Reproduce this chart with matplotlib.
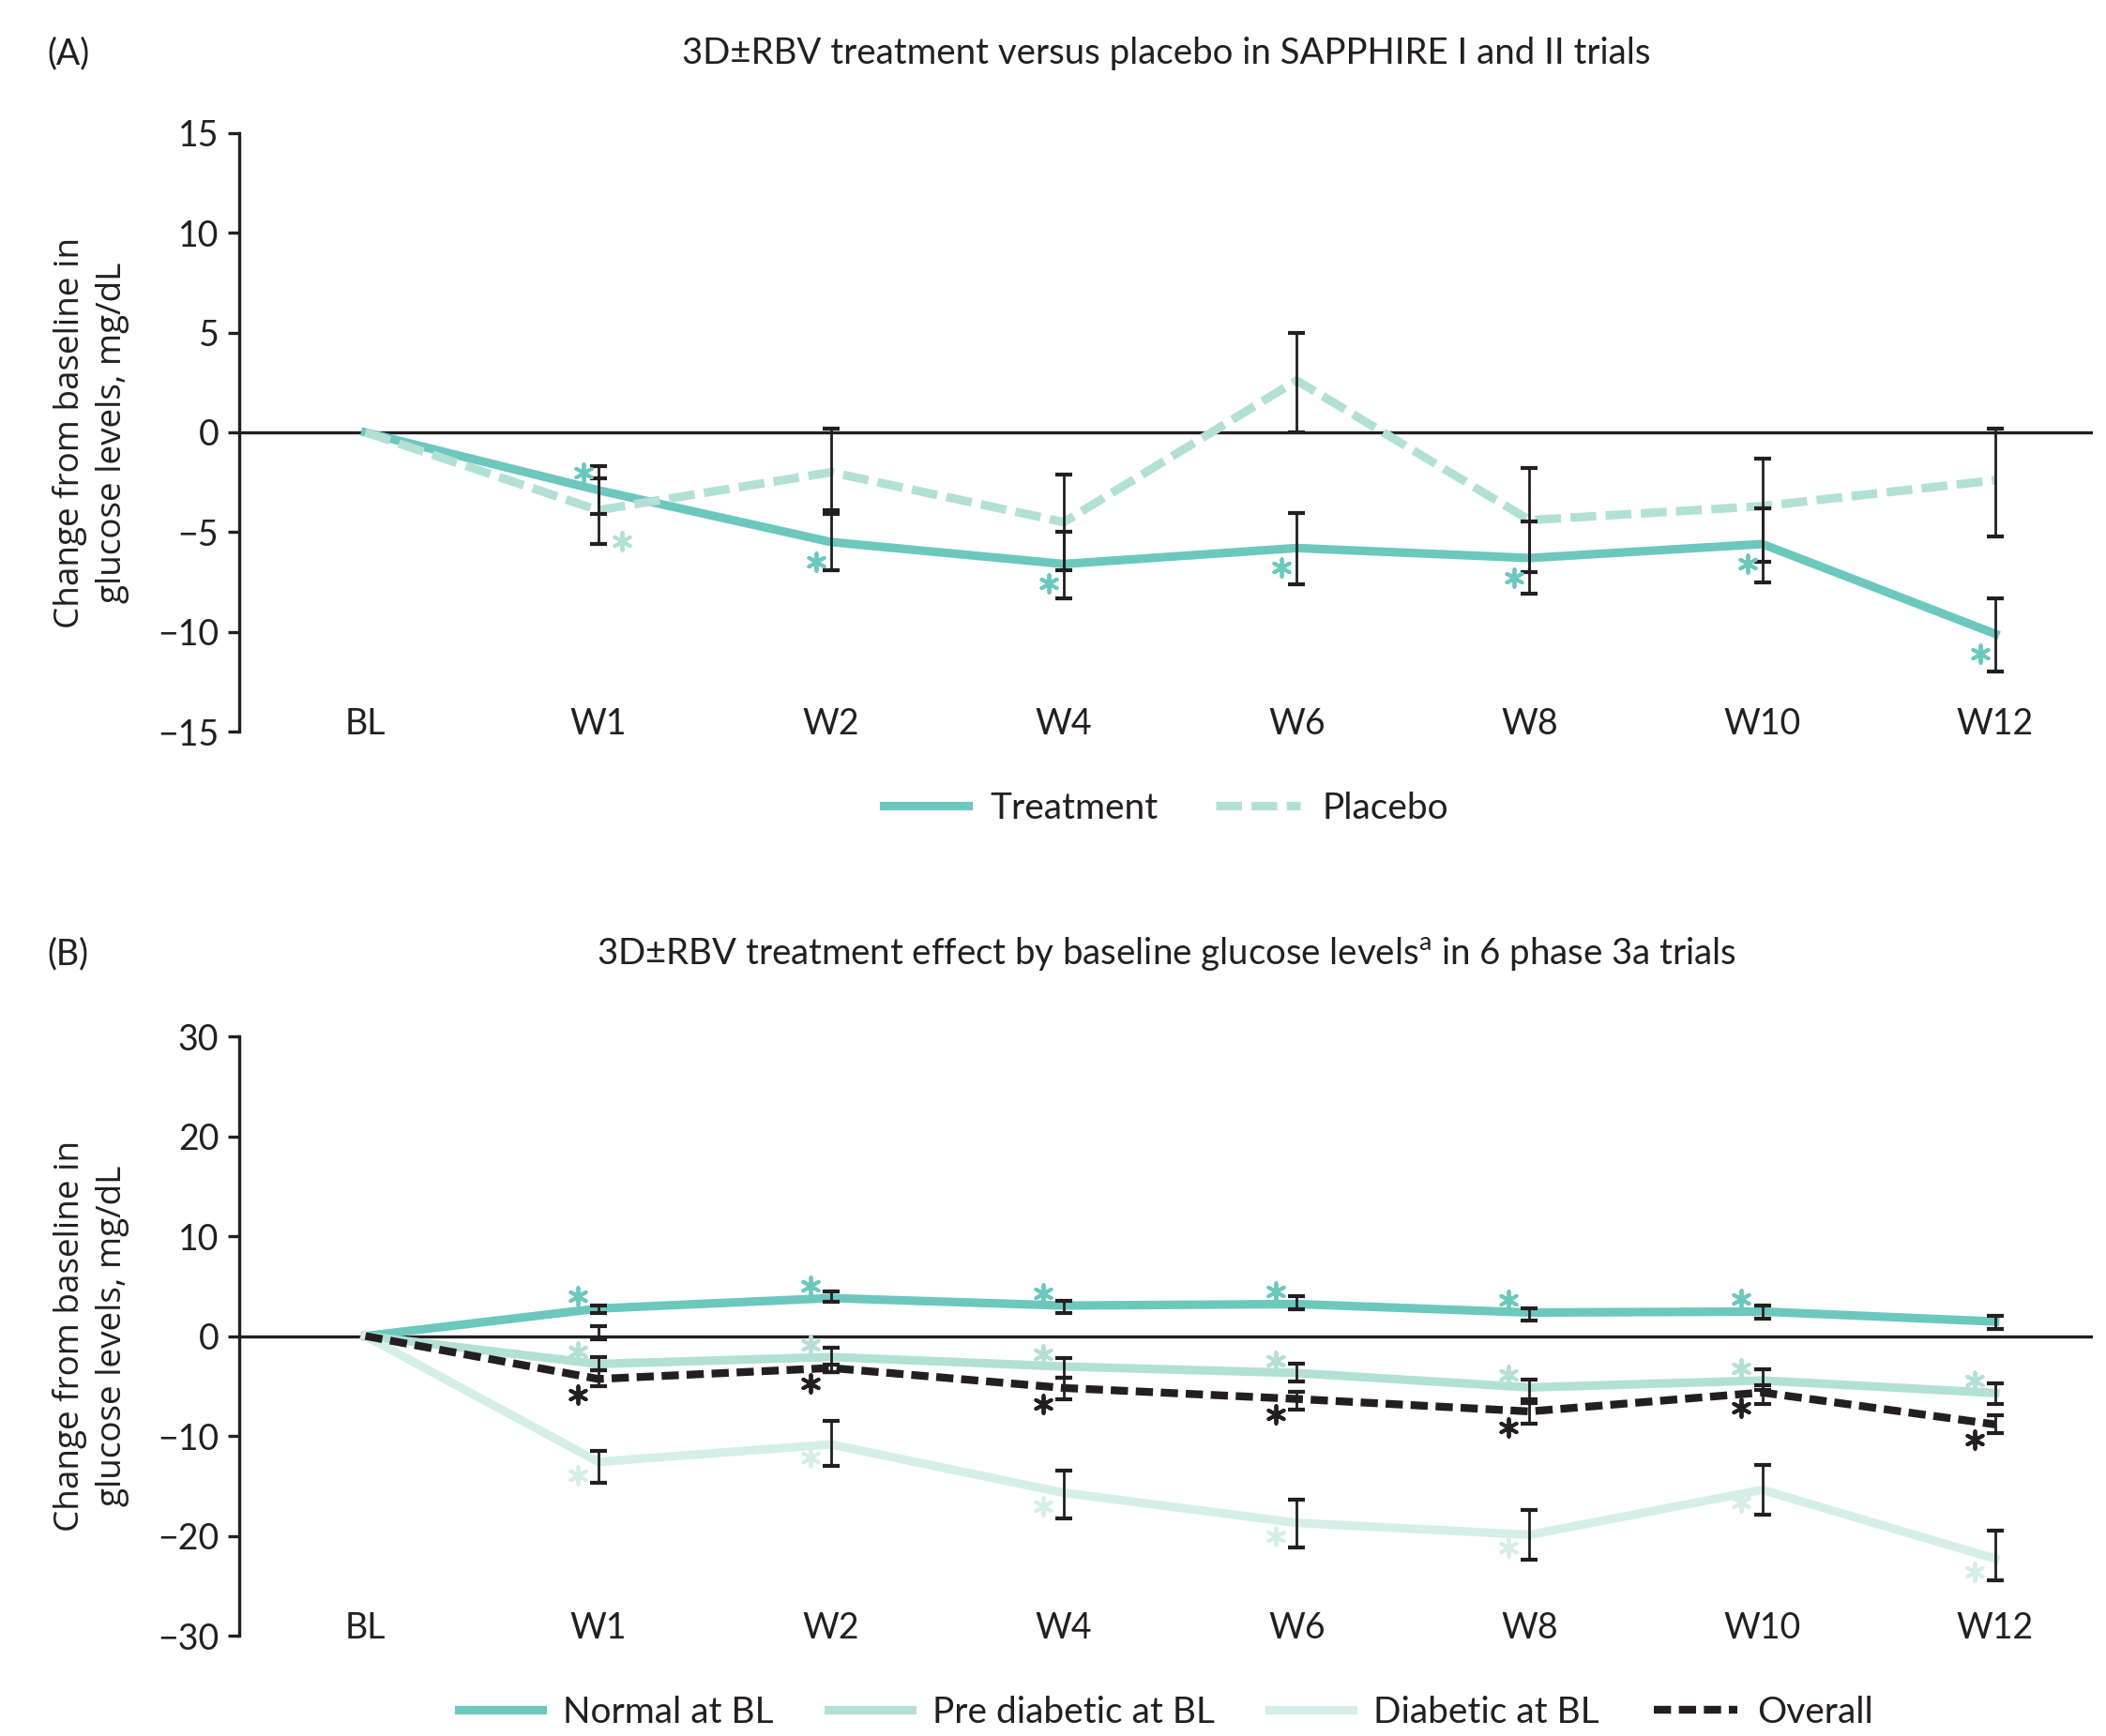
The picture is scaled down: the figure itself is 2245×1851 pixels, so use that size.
import matplotlib
matplotlib.use("Agg")
import matplotlib.pyplot as plt
import matplotlib.transforms as mtransforms
import numpy as np

plt.rcParams["font.family"] = ["Lato", "DejaVu Sans"]
plt.rcParams["mathtext.fontset"] = "custom"
plt.rcParams["mathtext.rm"] = "Lato"

WEEKS = ["BL", "W1", "W2", "W4", "W6", "W8", "W10", "W12"]

# (A) SAPPHIRE I/II, mean change with bar ends for W1..W12
treat_mean = [0, -2.9, -5.5, -6.6, -5.8, -6.3, -5.6, -10.1]
treat_lo = [-4.1, -6.9, -8.3, -7.6, -8.1, -7.5, -12.0]
treat_hi = [-1.7, -4.1, -5.0, -4.05, -4.45, -3.8, -8.3]
treat_star = [0, 1, 1, 1, 1, 1, 1, 1]

plac_mean = [0, -3.9, -2.0, -4.5, 2.6, -4.4, -3.7, -2.4]
plac_lo = [-5.6, -3.9, -6.9, 0.0, -7.0, -6.5, -5.2]
plac_hi = [-2.3, 0.2, -2.1, 5.0, -1.8, -1.3, 0.2]
plac_star = [0, 1, 0, 0, 0, 0, 0, 0]

# (B) pooled phase 3a, by baseline glucose
normal_mean = [0, 2.75, 3.8, 3.05, 3.2, 2.35, 2.45, 1.45]
normal_lo = [2.3, 3.4, 2.3, 2.7, 1.55, 1.75, 0.7]
normal_hi = [3.1, 4.5, 3.55, 3.95, 2.8, 3.1, 2.05]
normal_star = [0, 1, 1, 1, 1, 1, 1, 0]
# stray bar on the zero line at W1
w1_bar_lo, w1_bar_hi = -0.3, 1.0

pre_mean = [0, -2.8, -2.1, -3.05, -3.7, -5.15, -4.45, -5.7]
pre_lo = [-3.4, -3.65, -4.2, -4.55, -6.3, -5.4, -6.8]
pre_hi = [-2.1, -1.15, -2.25, -2.8, -4.35, -3.3, -4.75]
pre_star = [0, 1, 1, 1, 1, 1, 1, 1]

diab_mean = [0, -12.6, -10.85, -15.7, -18.7, -19.9, -15.4, -22.3]
diab_lo = [-14.7, -13.0, -18.3, -21.2, -22.4, -17.9, -24.5]
diab_hi = [-11.5, -8.5, -13.5, -16.4, -17.4, -12.9, -19.5]
diab_star = [0, 1, 1, 1, 1, 1, 1, 1]

overall_mean = [0, -4.3, -3.2, -5.2, -6.3, -7.55, -5.65, -8.85]
overall_lo = [-5.0, -3.65, -6.3, -7.35, -8.75, -6.8, -9.75]
overall_hi = [-3.4, -2.9, -4.2, -5.55, -6.7, -4.9, -7.95]
overall_star = [0, 1, 1, 1, 1, 1, 1, 1]

TEAL = "#6cc8bd"
LIGHT = "#b3e0d5"
PALE = "#d6eee8"
INK = "#231f20"

FS = 13.5
x = np.arange(len(WEEKS))

fig = plt.figure(figsize=(11.225, 9.255), dpi=200)
axA = fig.add_axes([0.1136, 0.5786, 0.8802, 0.3447])
axB = fig.add_axes([0.1136, 0.0578, 0.8802, 0.3452])


def style_axes(ax, ylim, step):
    ax.set_xlim(-0.542, 7.42)
    ax.set_ylim(*ylim)
    for s in ["top", "right", "bottom"]:
        ax.spines[s].set_visible(False)
    ax.spines["left"].set_linewidth(1.2)
    ax.spines["left"].set_color(INK)
    ax.axhline(0, color=INK, lw=1.2, zorder=2)
    ax.set_yticks(np.arange(ylim[0], ylim[1] + 1, step))
    ax.tick_params(axis="y", length=4.3, width=1.2, color=INK, pad=3.5, labelsize=FS, labelcolor=INK)
    ax.set_xticks(x, WEEKS)
    ax.tick_params(axis="x", length=0, pad=-9.5, labelsize=FS, labelcolor=INK)
    fig.text(0.0432, ax.get_position().y0 + ax.get_position().height / 2,
             "Change from baseline in\nglucose levels, mg/dL", rotation=90,
             ha="center", va="center", multialignment="center", fontsize=13.3,
             linespacing=1.35, color=INK, family=["Open Sans", "DejaVu Sans"])


def bars(ax, lo, hi):
    lo = np.asarray(lo, float)
    hi = np.asarray(hi, float)
    ax.errorbar(x[1:], (lo + hi) / 2, yerr=(hi - lo) / 2, fmt="none", ecolor=INK,
                elinewidth=1.0, capsize=3.3, capthick=1.5, zorder=4)


def stars(ax, mean, flags, color, dx, dy):
    tr = mtransforms.offset_copy(ax.transData, fig=fig, x=dx, y=dy, units="points")
    xs = [x[i] for i, f in enumerate(flags) if f]
    ys = [mean[i] for i, f in enumerate(flags) if f]
    ax.scatter(xs, ys, marker=(6, 2, 0), s=45, color=color, linewidths=1.4,
               transform=tr, zorder=5, clip_on=False)


# (A)
style_axes(axA, (-15, 15), 5)
hT, = axA.plot(x, treat_mean, color=TEAL, lw=3.3, zorder=3, label="Treatment")
hP, = axA.plot(x, plac_mean, color=LIGHT, lw=3.3, dashes=(3.0, 1.1), zorder=3, label="Placebo")
bars(axA, treat_lo, treat_hi)
bars(axA, plac_lo, plac_hi)
stars(axA, treat_mean, [0, 1, 0, 0, 0, 0, 0, 0], TEAL, -5.8, 6.7)
stars(axA, treat_mean, [0, 0, 1, 1, 1, 1, 1, 1], TEAL, -5.8, -7.5)
stars(axA, plac_mean, plac_star, LIGHT, 9, -12)

fig.text(0.0223, 0.9692, "(A)", ha="left", va="center", fontsize=FS, color=INK)
fig.text(0.5537, 0.9692, "3D±RBV treatment versus placebo in SAPPHIRE I and II trials",
         ha="center", va="center", fontsize=13.8, color=INK)
fig.legend([hT, hP], ["Treatment", "Placebo"], loc="center", bbox_to_anchor=(0.5537, 0.5343),
           ncol=2, frameon=False, fontsize=14, handlelength=2.3, handletextpad=0.6,
           columnspacing=1.6, labelcolor=INK)

# (B)
style_axes(axB, (-30, 30), 10)
hN, = axB.plot(x, normal_mean, color=TEAL, lw=3.3, zorder=3, label="Normal at BL")
hR, = axB.plot(x, pre_mean, color=LIGHT, lw=3.3, zorder=3, label="Pre diabetic at BL")
hD, = axB.plot(x, diab_mean, color=PALE, lw=3.3, zorder=3, label="Diabetic at BL")
bars(axB, normal_lo, normal_hi)
bars(axB, pre_lo, pre_hi)
bars(axB, diab_lo, diab_hi)
bars(axB, overall_lo, overall_hi)
axB.errorbar([x[1]], [(w1_bar_lo + w1_bar_hi) / 2], yerr=[(w1_bar_hi - w1_bar_lo) / 2],
             fmt="none", ecolor=INK, elinewidth=1.0, capsize=3.3, capthick=1.5, zorder=4)
hO, = axB.plot(x, overall_mean, color=INK, lw=3.0, dashes=(2.2, 1.0), zorder=6, label="Overall")
stars(axB, normal_mean, normal_star, TEAL, -8, 4.8)
stars(axB, pre_mean, pre_star, LIGHT, -8, 4.8)
stars(axB, overall_mean, overall_star, INK, -8, -6.0)
stars(axB, diab_mean, diab_star, PALE, -8, -5.0)

fig.text(0.0223, 0.4506, "(B)", ha="left", va="center", fontsize=FS, color=INK)
fig.text(0.5537, 0.4506,
         "3D±RBV treatment effect by baseline glucose levels$^{\\mathrm{a}}$ in 6 phase 3a trials",
         ha="center", va="center", fontsize=13.8, color=INK)
fig.legend([hN, hR, hD, hO], ["Normal at BL", "Pre diabetic at BL", "Diabetic at BL", "Overall"],
           loc="center", bbox_to_anchor=(0.5537, 0.0135), ncol=4, frameon=False, fontsize=14,
           handlelength=2.3, handletextpad=0.55, columnspacing=1.5, labelcolor=INK)

fig.savefig("out.png", dpi=200)
